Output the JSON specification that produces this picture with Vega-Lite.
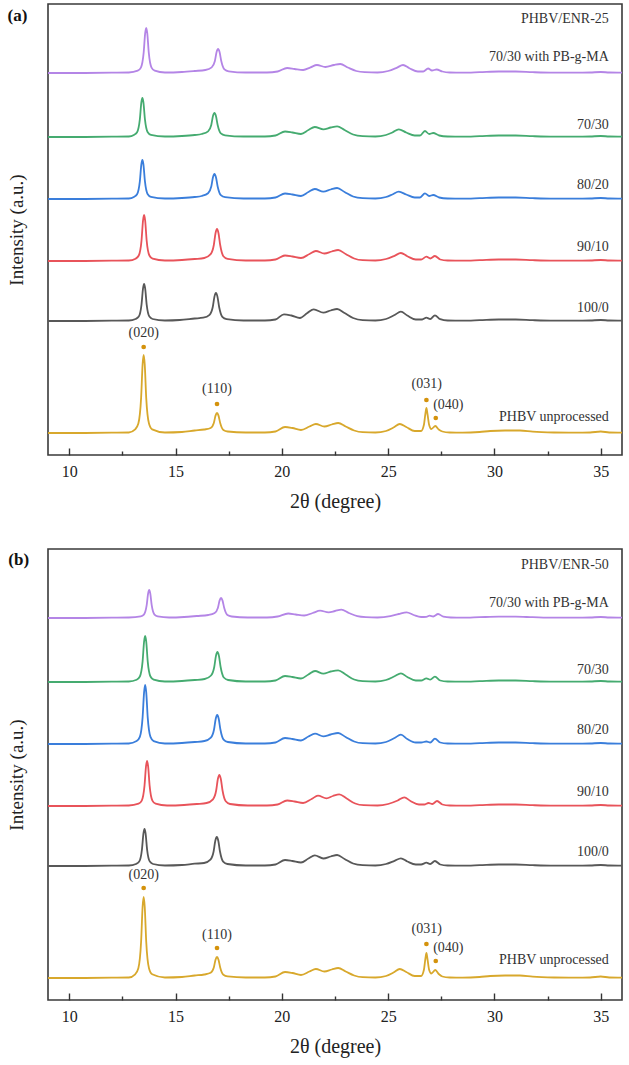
{
"$schema": "https://vega.github.io/schema/vega-lite/v6.json",
"padding": {"left": 6, "top": 3, "right": 5, "bottom": 5},
"spacing": 36,
"config": {
  "font": "Liberation Serif",
  "view": {"stroke": "#3a3a3a", "strokeWidth": 1.6},
  "axis": {"grid": false, "domain": false, "labelFont": "Liberation Serif", "titleFont": "Liberation Serif", "titleFontWeight": "normal", "labelColor": "#222", "titleColor": "#222"}
},
"datasets": {
"labels": [
{"p":"a","x":35.38,"y":436,"t":"PHBV/ENR-25"},
{"p":"a","x":35.38,"y":398,"t":"70/30 with PB-g-MA"},
{"p":"a","x":35.38,"y":330,"t":"70/30"},
{"p":"a","x":35.38,"y":270,"t":"80/20"},
{"p":"a","x":35.38,"y":208,"t":"90/10"},
{"p":"a","x":35.38,"y":147,"t":"100/0"},
{"p":"a","x":35.38,"y":38,"t":"PHBV unprocessed"},
{"p":"b","x":35.38,"y":435,"t":"PHBV/ENR-50"},
{"p":"b","x":35.38,"y":397,"t":"70/30 with PB-g-MA"},
{"p":"b","x":35.38,"y":330,"t":"70/30"},
{"p":"b","x":35.38,"y":270,"t":"80/20"},
{"p":"b","x":35.38,"y":208,"t":"90/10"},
{"p":"b","x":35.38,"y":148,"t":"100/0"},
{"p":"b","x":35.38,"y":40,"t":"PHBV unprocessed"}
],
"peaks": [
{"p":"a","x":13.5,"y":108,"lx":13.5,"ly":122,"t":"(020)"},
{"p":"a","x":16.95,"y":51,"lx":16.95,"ly":66,"t":"(110)"},
{"p":"a","x":26.8,"y":55,"lx":26.81,"ly":71,"t":"(031)"},
{"p":"a","x":27.24,"y":37,"lx":27.83,"ly":50,"t":"(040)"},
{"p":"b","x":13.5,"y":112,"lx":13.5,"ly":125,"t":"(020)"},
{"p":"b","x":16.95,"y":52,"lx":16.95,"ly":65,"t":"(110)"},
{"p":"b","x":26.8,"y":56,"lx":26.81,"ly":71,"t":"(031)"},
{"p":"b","x":27.24,"y":39,"lx":27.83,"ly":52,"t":"(040)"}
],
"letters": [
{"p":"a","x":7.56,"y":439,"t":"(a)"},
{"p":"b","x":7.62,"y":440,"t":"(b)"}
],
"curves": [
{"p":"a","s":"PBgMA","x":9.0,"y":382},{"p":"a","s":"PBgMA","x":10.5,"y":382},{"p":"a","s":"PBgMA","x":12.0,"y":382.3},{"p":"a","s":"PBgMA","x":12.8,"y":382.5},{"p":"a","s":"PBgMA","x":13.22,"y":384.3},{"p":"a","s":"PBgMA","x":13.37,"y":387.4},{"p":"a","s":"PBgMA","x":13.5,"y":402.3},{"p":"a","s":"PBgMA","x":13.57,"y":421.6},{"p":"a","s":"PBgMA","x":13.62,"y":427},{"p":"a","s":"PBgMA","x":13.67,"y":421.6},{"p":"a","s":"PBgMA","x":13.74,"y":402.3},{"p":"a","s":"PBgMA","x":13.87,"y":387.4},{"p":"a","s":"PBgMA","x":14.02,"y":384.3},{"p":"a","s":"PBgMA","x":14.5,"y":382.5},{"p":"a","s":"PBgMA","x":15.3,"y":383},{"p":"a","s":"PBgMA","x":15.9,"y":384},{"p":"a","s":"PBgMA","x":16.4,"y":385},{"p":"a","s":"PBgMA","x":16.7,"y":387.6},{"p":"a","s":"PBgMA","x":16.85,"y":394},{"p":"a","s":"PBgMA","x":16.93,"y":402.9},{"p":"a","s":"PBgMA","x":17.0,"y":406},{"p":"a","s":"PBgMA","x":17.07,"y":402.9},{"p":"a","s":"PBgMA","x":17.15,"y":394},{"p":"a","s":"PBgMA","x":17.3,"y":385.6},{"p":"a","s":"PBgMA","x":17.5,"y":383.7},{"p":"a","s":"PBgMA","x":18.3,"y":382.5},{"p":"a","s":"PBgMA","x":19.3,"y":382.5},{"p":"a","s":"PBgMA","x":19.8,"y":383.5},{"p":"a","s":"PBgMA","x":20.25,"y":387},{"p":"a","s":"PBgMA","x":20.6,"y":386},{"p":"a","s":"PBgMA","x":21.0,"y":385},{"p":"a","s":"PBgMA","x":21.35,"y":387.6},{"p":"a","s":"PBgMA","x":21.65,"y":390},{"p":"a","s":"PBgMA","x":22.05,"y":388},{"p":"a","s":"PBgMA","x":22.45,"y":390},{"p":"a","s":"PBgMA","x":22.75,"y":391},{"p":"a","s":"PBgMA","x":23.1,"y":387.5},{"p":"a","s":"PBgMA","x":23.5,"y":384},{"p":"a","s":"PBgMA","x":23.9,"y":382.8},{"p":"a","s":"PBgMA","x":24.5,"y":382.5},{"p":"a","s":"PBgMA","x":25.0,"y":384},{"p":"a","s":"PBgMA","x":25.4,"y":387.2},{"p":"a","s":"PBgMA","x":25.7,"y":390},{"p":"a","s":"PBgMA","x":26.0,"y":386.8},{"p":"a","s":"PBgMA","x":26.4,"y":383.5},{"p":"a","s":"PBgMA","x":26.65,"y":383.5},{"p":"a","s":"PBgMA","x":26.88,"y":386.5},{"p":"a","s":"PBgMA","x":27.06,"y":384.5},{"p":"a","s":"PBgMA","x":27.28,"y":385.5},{"p":"a","s":"PBgMA","x":27.55,"y":383.5},{"p":"a","s":"PBgMA","x":27.9,"y":382.5},{"p":"a","s":"PBgMA","x":28.5,"y":382.3},{"p":"a","s":"PBgMA","x":29.3,"y":382.8},{"p":"a","s":"PBgMA","x":30.2,"y":383.5},{"p":"a","s":"PBgMA","x":31.0,"y":383.5},{"p":"a","s":"PBgMA","x":31.8,"y":382.8},{"p":"a","s":"PBgMA","x":32.8,"y":382.3},{"p":"a","s":"PBgMA","x":33.8,"y":382.3},{"p":"a","s":"PBgMA","x":34.5,"y":382.5},{"p":"a","s":"PBgMA","x":35.0,"y":383},{"p":"a","s":"PBgMA","x":35.4,"y":382.5},{"p":"a","s":"PBgMA","x":36.0,"y":382.3},

{"p":"a","s":"70/30","x":9.0,"y":318},{"p":"a","s":"70/30","x":10.5,"y":318},{"p":"a","s":"70/30","x":12.0,"y":318.3},{"p":"a","s":"70/30","x":12.8,"y":318.5},{"p":"a","s":"70/30","x":13.04,"y":320.1},{"p":"a","s":"70/30","x":13.19,"y":322.7},{"p":"a","s":"70/30","x":13.32,"y":335.6},{"p":"a","s":"70/30","x":13.39,"y":352.3},{"p":"a","s":"70/30","x":13.44,"y":357},{"p":"a","s":"70/30","x":13.49,"y":352.3},{"p":"a","s":"70/30","x":13.56,"y":335.6},{"p":"a","s":"70/30","x":13.69,"y":322.7},{"p":"a","s":"70/30","x":13.84,"y":320.1},{"p":"a","s":"70/30","x":14.5,"y":318.5},{"p":"a","s":"70/30","x":15.3,"y":319},{"p":"a","s":"70/30","x":15.9,"y":320},{"p":"a","s":"70/30","x":16.23,"y":321},{"p":"a","s":"70/30","x":16.53,"y":323.6},{"p":"a","s":"70/30","x":16.68,"y":330},{"p":"a","s":"70/30","x":16.76,"y":338.9},{"p":"a","s":"70/30","x":16.83,"y":342},{"p":"a","s":"70/30","x":16.9,"y":338.9},{"p":"a","s":"70/30","x":16.98,"y":330},{"p":"a","s":"70/30","x":17.13,"y":321.6},{"p":"a","s":"70/30","x":17.33,"y":319.7},{"p":"a","s":"70/30","x":18.2,"y":318.5},{"p":"a","s":"70/30","x":19.2,"y":318.5},{"p":"a","s":"70/30","x":19.7,"y":319.5},{"p":"a","s":"70/30","x":20.15,"y":323.5},{"p":"a","s":"70/30","x":20.5,"y":322.5},{"p":"a","s":"70/30","x":20.9,"y":321},{"p":"a","s":"70/30","x":21.25,"y":325},{"p":"a","s":"70/30","x":21.55,"y":328},{"p":"a","s":"70/30","x":21.95,"y":325.7},{"p":"a","s":"70/30","x":22.3,"y":327.5},{"p":"a","s":"70/30","x":22.6,"y":328.7},{"p":"a","s":"70/30","x":22.95,"y":325},{"p":"a","s":"70/30","x":23.35,"y":320.5},{"p":"a","s":"70/30","x":23.8,"y":318.8},{"p":"a","s":"70/30","x":24.4,"y":318.5},{"p":"a","s":"70/30","x":24.9,"y":320},{"p":"a","s":"70/30","x":25.2,"y":322.5},{"p":"a","s":"70/30","x":25.5,"y":325.7},{"p":"a","s":"70/30","x":25.85,"y":322.5},{"p":"a","s":"70/30","x":26.25,"y":319.5},{"p":"a","s":"70/30","x":26.5,"y":319.5},{"p":"a","s":"70/30","x":26.73,"y":324},{"p":"a","s":"70/30","x":26.93,"y":321},{"p":"a","s":"70/30","x":27.12,"y":322},{"p":"a","s":"70/30","x":27.4,"y":319.5},{"p":"a","s":"70/30","x":27.8,"y":318.5},{"p":"a","s":"70/30","x":28.5,"y":318.3},{"p":"a","s":"70/30","x":29.3,"y":318.8},{"p":"a","s":"70/30","x":30.2,"y":319.5},{"p":"a","s":"70/30","x":31.0,"y":319.5},{"p":"a","s":"70/30","x":31.8,"y":318.8},{"p":"a","s":"70/30","x":32.8,"y":318.3},{"p":"a","s":"70/30","x":33.8,"y":318.3},{"p":"a","s":"70/30","x":34.5,"y":318.5},{"p":"a","s":"70/30","x":35.0,"y":319},{"p":"a","s":"70/30","x":35.4,"y":318.5},{"p":"a","s":"70/30","x":36.0,"y":318.3},

{"p":"a","s":"80/20","x":9.0,"y":256},{"p":"a","s":"80/20","x":10.5,"y":256},{"p":"a","s":"80/20","x":12.0,"y":256.3},{"p":"a","s":"80/20","x":12.8,"y":256.5},{"p":"a","s":"80/20","x":13.04,"y":258.1},{"p":"a","s":"80/20","x":13.19,"y":260.7},{"p":"a","s":"80/20","x":13.32,"y":273.6},{"p":"a","s":"80/20","x":13.39,"y":290.3},{"p":"a","s":"80/20","x":13.44,"y":295},{"p":"a","s":"80/20","x":13.49,"y":290.3},{"p":"a","s":"80/20","x":13.56,"y":273.6},{"p":"a","s":"80/20","x":13.69,"y":260.7},{"p":"a","s":"80/20","x":13.84,"y":258.1},{"p":"a","s":"80/20","x":14.5,"y":256.5},{"p":"a","s":"80/20","x":15.3,"y":257},{"p":"a","s":"80/20","x":15.9,"y":258},{"p":"a","s":"80/20","x":16.23,"y":259},{"p":"a","s":"80/20","x":16.53,"y":261.8},{"p":"a","s":"80/20","x":16.68,"y":268.5},{"p":"a","s":"80/20","x":16.76,"y":277.8},{"p":"a","s":"80/20","x":16.83,"y":281},{"p":"a","s":"80/20","x":16.9,"y":277.8},{"p":"a","s":"80/20","x":16.98,"y":268.5},{"p":"a","s":"80/20","x":17.13,"y":259.8},{"p":"a","s":"80/20","x":17.33,"y":257.8},{"p":"a","s":"80/20","x":18.2,"y":256.5},{"p":"a","s":"80/20","x":19.2,"y":256.5},{"p":"a","s":"80/20","x":19.7,"y":257.5},{"p":"a","s":"80/20","x":20.15,"y":261.5},{"p":"a","s":"80/20","x":20.5,"y":260.5},{"p":"a","s":"80/20","x":20.9,"y":259},{"p":"a","s":"80/20","x":21.25,"y":263},{"p":"a","s":"80/20","x":21.55,"y":266},{"p":"a","s":"80/20","x":21.95,"y":263.3},{"p":"a","s":"80/20","x":22.3,"y":265.5},{"p":"a","s":"80/20","x":22.6,"y":267},{"p":"a","s":"80/20","x":22.95,"y":263},{"p":"a","s":"80/20","x":23.35,"y":258.5},{"p":"a","s":"80/20","x":23.8,"y":256.8},{"p":"a","s":"80/20","x":24.4,"y":256.5},{"p":"a","s":"80/20","x":24.9,"y":258},{"p":"a","s":"80/20","x":25.2,"y":260.5},{"p":"a","s":"80/20","x":25.5,"y":263.3},{"p":"a","s":"80/20","x":25.85,"y":260.5},{"p":"a","s":"80/20","x":26.25,"y":257.5},{"p":"a","s":"80/20","x":26.5,"y":257.5},{"p":"a","s":"80/20","x":26.73,"y":261.7},{"p":"a","s":"80/20","x":26.93,"y":259},{"p":"a","s":"80/20","x":27.12,"y":260},{"p":"a","s":"80/20","x":27.4,"y":257.5},{"p":"a","s":"80/20","x":27.8,"y":256.5},{"p":"a","s":"80/20","x":28.5,"y":256.3},{"p":"a","s":"80/20","x":29.3,"y":256.8},{"p":"a","s":"80/20","x":30.2,"y":257.5},{"p":"a","s":"80/20","x":31.0,"y":257.5},{"p":"a","s":"80/20","x":31.8,"y":256.8},{"p":"a","s":"80/20","x":32.8,"y":256.3},{"p":"a","s":"80/20","x":33.8,"y":256.3},{"p":"a","s":"80/20","x":34.5,"y":256.5},{"p":"a","s":"80/20","x":35.0,"y":257},{"p":"a","s":"80/20","x":35.4,"y":256.5},{"p":"a","s":"80/20","x":36.0,"y":256.3},

{"p":"a","s":"90/10","x":9.0,"y":194},{"p":"a","s":"90/10","x":10.5,"y":194},{"p":"a","s":"90/10","x":12.0,"y":194.3},{"p":"a","s":"90/10","x":12.8,"y":194.5},{"p":"a","s":"90/10","x":13.12,"y":196.3},{"p":"a","s":"90/10","x":13.27,"y":199.5},{"p":"a","s":"90/10","x":13.4,"y":214.7},{"p":"a","s":"90/10","x":13.47,"y":234.5},{"p":"a","s":"90/10","x":13.52,"y":240},{"p":"a","s":"90/10","x":13.57,"y":234.5},{"p":"a","s":"90/10","x":13.64,"y":214.7},{"p":"a","s":"90/10","x":13.77,"y":199.5},{"p":"a","s":"90/10","x":13.92,"y":196.3},{"p":"a","s":"90/10","x":14.5,"y":194.5},{"p":"a","s":"90/10","x":15.3,"y":195},{"p":"a","s":"90/10","x":15.9,"y":196},{"p":"a","s":"90/10","x":16.35,"y":197},{"p":"a","s":"90/10","x":16.65,"y":200.8},{"p":"a","s":"90/10","x":16.8,"y":210},{"p":"a","s":"90/10","x":16.88,"y":221.8},{"p":"a","s":"90/10","x":16.95,"y":226},{"p":"a","s":"90/10","x":17.02,"y":221.8},{"p":"a","s":"90/10","x":17.1,"y":210},{"p":"a","s":"90/10","x":17.25,"y":198.8},{"p":"a","s":"90/10","x":17.45,"y":196.1},{"p":"a","s":"90/10","x":18.3,"y":194.5},{"p":"a","s":"90/10","x":19.2,"y":194.5},{"p":"a","s":"90/10","x":19.7,"y":195.5},{"p":"a","s":"90/10","x":20.15,"y":199.5},{"p":"a","s":"90/10","x":20.5,"y":198.5},{"p":"a","s":"90/10","x":20.9,"y":197},{"p":"a","s":"90/10","x":21.3,"y":201},{"p":"a","s":"90/10","x":21.6,"y":204},{"p":"a","s":"90/10","x":22.0,"y":201.5},{"p":"a","s":"90/10","x":22.35,"y":203.5},{"p":"a","s":"90/10","x":22.65,"y":205},{"p":"a","s":"90/10","x":23.0,"y":201},{"p":"a","s":"90/10","x":23.4,"y":196.5},{"p":"a","s":"90/10","x":23.8,"y":194.8},{"p":"a","s":"90/10","x":24.4,"y":194.5},{"p":"a","s":"90/10","x":24.9,"y":196},{"p":"a","s":"90/10","x":25.3,"y":199.2},{"p":"a","s":"90/10","x":25.6,"y":202},{"p":"a","s":"90/10","x":25.9,"y":198.8},{"p":"a","s":"90/10","x":26.3,"y":195.5},{"p":"a","s":"90/10","x":26.55,"y":195.5},{"p":"a","s":"90/10","x":26.8,"y":198.3},{"p":"a","s":"90/10","x":26.98,"y":196.5},{"p":"a","s":"90/10","x":27.2,"y":199},{"p":"a","s":"90/10","x":27.45,"y":195.5},{"p":"a","s":"90/10","x":27.8,"y":194.5},{"p":"a","s":"90/10","x":28.5,"y":194.3},{"p":"a","s":"90/10","x":29.3,"y":194.8},{"p":"a","s":"90/10","x":30.2,"y":195.5},{"p":"a","s":"90/10","x":31.0,"y":195.5},{"p":"a","s":"90/10","x":31.8,"y":194.8},{"p":"a","s":"90/10","x":32.8,"y":194.3},{"p":"a","s":"90/10","x":33.8,"y":194.3},{"p":"a","s":"90/10","x":34.5,"y":194.5},{"p":"a","s":"90/10","x":35.0,"y":195},{"p":"a","s":"90/10","x":35.4,"y":194.5},{"p":"a","s":"90/10","x":36.0,"y":194.3},

{"p":"a","s":"100/0","x":9.0,"y":134},{"p":"a","s":"100/0","x":10.5,"y":134},{"p":"a","s":"100/0","x":12.0,"y":134.3},{"p":"a","s":"100/0","x":12.8,"y":134.5},{"p":"a","s":"100/0","x":13.12,"y":136},{"p":"a","s":"100/0","x":13.27,"y":138.4},{"p":"a","s":"100/0","x":13.4,"y":150.7},{"p":"a","s":"100/0","x":13.47,"y":166.6},{"p":"a","s":"100/0","x":13.52,"y":171},{"p":"a","s":"100/0","x":13.57,"y":166.6},{"p":"a","s":"100/0","x":13.64,"y":150.7},{"p":"a","s":"100/0","x":13.77,"y":138.4},{"p":"a","s":"100/0","x":13.92,"y":136},{"p":"a","s":"100/0","x":14.5,"y":134.5},{"p":"a","s":"100/0","x":15.2,"y":135},{"p":"a","s":"100/0","x":15.9,"y":136.5},{"p":"a","s":"100/0","x":16.3,"y":137.3},{"p":"a","s":"100/0","x":16.6,"y":140.2},{"p":"a","s":"100/0","x":16.75,"y":148},{"p":"a","s":"100/0","x":16.83,"y":158.4},{"p":"a","s":"100/0","x":16.9,"y":162},{"p":"a","s":"100/0","x":16.97,"y":158.4},{"p":"a","s":"100/0","x":17.05,"y":148},{"p":"a","s":"100/0","x":17.2,"y":138.2},{"p":"a","s":"100/0","x":17.4,"y":135.9},{"p":"a","s":"100/0","x":18.2,"y":134.5},{"p":"a","s":"100/0","x":19.2,"y":134.5},{"p":"a","s":"100/0","x":19.7,"y":135.5},{"p":"a","s":"100/0","x":20.1,"y":140.7},{"p":"a","s":"100/0","x":20.45,"y":139.5},{"p":"a","s":"100/0","x":20.85,"y":137},{"p":"a","s":"100/0","x":21.2,"y":142},{"p":"a","s":"100/0","x":21.5,"y":145.7},{"p":"a","s":"100/0","x":21.95,"y":142.3},{"p":"a","s":"100/0","x":22.3,"y":144.5},{"p":"a","s":"100/0","x":22.6,"y":146},{"p":"a","s":"100/0","x":22.95,"y":142},{"p":"a","s":"100/0","x":23.35,"y":137},{"p":"a","s":"100/0","x":23.8,"y":134.8},{"p":"a","s":"100/0","x":24.4,"y":134.5},{"p":"a","s":"100/0","x":24.9,"y":136},{"p":"a","s":"100/0","x":25.3,"y":140},{"p":"a","s":"100/0","x":25.6,"y":143.3},{"p":"a","s":"100/0","x":25.9,"y":139.5},{"p":"a","s":"100/0","x":26.3,"y":135.5},{"p":"a","s":"100/0","x":26.6,"y":135.5},{"p":"a","s":"100/0","x":26.8,"y":137.3},{"p":"a","s":"100/0","x":26.98,"y":136},{"p":"a","s":"100/0","x":27.2,"y":139.7},{"p":"a","s":"100/0","x":27.45,"y":135.8},{"p":"a","s":"100/0","x":27.8,"y":134.5},{"p":"a","s":"100/0","x":28.5,"y":134.3},{"p":"a","s":"100/0","x":29.3,"y":134.8},{"p":"a","s":"100/0","x":30.2,"y":135.5},{"p":"a","s":"100/0","x":31.0,"y":135.5},{"p":"a","s":"100/0","x":31.8,"y":134.8},{"p":"a","s":"100/0","x":32.8,"y":134.3},{"p":"a","s":"100/0","x":33.8,"y":134.3},{"p":"a","s":"100/0","x":34.5,"y":134.5},{"p":"a","s":"100/0","x":35.0,"y":135},{"p":"a","s":"100/0","x":35.4,"y":134.5},{"p":"a","s":"100/0","x":36.0,"y":134.3},

{"p":"a","s":"PHBV","x":9.0,"y":22},{"p":"a","s":"PHBV","x":10.5,"y":22},{"p":"a","s":"PHBV","x":12.0,"y":22.3},{"p":"a","s":"PHBV","x":12.8,"y":22.5},{"p":"a","s":"PHBV","x":13.1,"y":25.6},{"p":"a","s":"PHBV","x":13.25,"y":31.4},{"p":"a","s":"PHBV","x":13.38,"y":57.1},{"p":"a","s":"PHBV","x":13.45,"y":90.6},{"p":"a","s":"PHBV","x":13.5,"y":100},{"p":"a","s":"PHBV","x":13.55,"y":90.6},{"p":"a","s":"PHBV","x":13.62,"y":57.1},{"p":"a","s":"PHBV","x":13.75,"y":31.4},{"p":"a","s":"PHBV","x":13.9,"y":25.6},{"p":"a","s":"PHBV","x":14.5,"y":22.5},{"p":"a","s":"PHBV","x":15.3,"y":23},{"p":"a","s":"PHBV","x":15.9,"y":24.5},{"p":"a","s":"PHBV","x":16.35,"y":25.5},{"p":"a","s":"PHBV","x":16.65,"y":27},{"p":"a","s":"PHBV","x":16.8,"y":32},{"p":"a","s":"PHBV","x":16.88,"y":39.4},{"p":"a","s":"PHBV","x":16.95,"y":42},{"p":"a","s":"PHBV","x":17.02,"y":39.4},{"p":"a","s":"PHBV","x":17.1,"y":32},{"p":"a","s":"PHBV","x":17.25,"y":25},{"p":"a","s":"PHBV","x":17.45,"y":23.5},{"p":"a","s":"PHBV","x":18.3,"y":22.5},{"p":"a","s":"PHBV","x":19.2,"y":22.5},{"p":"a","s":"PHBV","x":19.7,"y":23.5},{"p":"a","s":"PHBV","x":20.15,"y":28},{"p":"a","s":"PHBV","x":20.5,"y":27},{"p":"a","s":"PHBV","x":20.9,"y":25},{"p":"a","s":"PHBV","x":21.3,"y":28.5},{"p":"a","s":"PHBV","x":21.6,"y":31},{"p":"a","s":"PHBV","x":22.0,"y":28.5},{"p":"a","s":"PHBV","x":22.35,"y":30.5},{"p":"a","s":"PHBV","x":22.65,"y":32},{"p":"a","s":"PHBV","x":23.0,"y":28.5},{"p":"a","s":"PHBV","x":23.4,"y":24.5},{"p":"a","s":"PHBV","x":23.8,"y":22.8},{"p":"a","s":"PHBV","x":24.4,"y":22.5},{"p":"a","s":"PHBV","x":24.9,"y":24},{"p":"a","s":"PHBV","x":25.25,"y":27.5},{"p":"a","s":"PHBV","x":25.55,"y":31},{"p":"a","s":"PHBV","x":25.85,"y":28},{"p":"a","s":"PHBV","x":26.25,"y":24},{"p":"a","s":"PHBV","x":26.55,"y":24},{"p":"a","s":"PHBV","x":26.68,"y":30},{"p":"a","s":"PHBV","x":26.75,"y":41},{"p":"a","s":"PHBV","x":26.8,"y":47},{"p":"a","s":"PHBV","x":26.85,"y":41},{"p":"a","s":"PHBV","x":26.93,"y":30},{"p":"a","s":"PHBV","x":27.03,"y":26},{"p":"a","s":"PHBV","x":27.22,"y":29},{"p":"a","s":"PHBV","x":27.38,"y":25.5},{"p":"a","s":"PHBV","x":27.55,"y":23.5},{"p":"a","s":"PHBV","x":27.9,"y":22.5},{"p":"a","s":"PHBV","x":28.5,"y":22.3},{"p":"a","s":"PHBV","x":29.3,"y":23},{"p":"a","s":"PHBV","x":29.8,"y":24},{"p":"a","s":"PHBV","x":30.5,"y":24.5},{"p":"a","s":"PHBV","x":31.2,"y":24.5},{"p":"a","s":"PHBV","x":31.8,"y":23.3},{"p":"a","s":"PHBV","x":32.8,"y":22.5},{"p":"a","s":"PHBV","x":33.8,"y":22.3},{"p":"a","s":"PHBV","x":34.5,"y":22.5},{"p":"a","s":"PHBV","x":35.0,"y":23.5},{"p":"a","s":"PHBV","x":35.4,"y":22.5},{"p":"a","s":"PHBV","x":36.0,"y":22.3},

{"p":"b","s":"PBgMA","x":9.0,"y":382},{"p":"b","s":"PBgMA","x":10.5,"y":382},{"p":"b","s":"PBgMA","x":12.0,"y":382.3},{"p":"b","s":"PBgMA","x":12.8,"y":382.5},{"p":"b","s":"PBgMA","x":13.36,"y":383.6},{"p":"b","s":"PBgMA","x":13.51,"y":385.4},{"p":"b","s":"PBgMA","x":13.64,"y":394.6},{"p":"b","s":"PBgMA","x":13.71,"y":406.6},{"p":"b","s":"PBgMA","x":13.76,"y":410},{"p":"b","s":"PBgMA","x":13.81,"y":406.6},{"p":"b","s":"PBgMA","x":13.88,"y":394.6},{"p":"b","s":"PBgMA","x":14.01,"y":385.4},{"p":"b","s":"PBgMA","x":14.16,"y":383.6},{"p":"b","s":"PBgMA","x":14.7,"y":382.5},{"p":"b","s":"PBgMA","x":15.4,"y":383},{"p":"b","s":"PBgMA","x":16.0,"y":384},{"p":"b","s":"PBgMA","x":16.54,"y":385},{"p":"b","s":"PBgMA","x":16.84,"y":387},{"p":"b","s":"PBgMA","x":16.99,"y":392},{"p":"b","s":"PBgMA","x":17.07,"y":399.4},{"p":"b","s":"PBgMA","x":17.14,"y":402},{"p":"b","s":"PBgMA","x":17.21,"y":399.4},{"p":"b","s":"PBgMA","x":17.29,"y":392},{"p":"b","s":"PBgMA","x":17.44,"y":385},{"p":"b","s":"PBgMA","x":17.64,"y":383.5},{"p":"b","s":"PBgMA","x":18.4,"y":382.5},{"p":"b","s":"PBgMA","x":19.3,"y":382.5},{"p":"b","s":"PBgMA","x":19.8,"y":383.5},{"p":"b","s":"PBgMA","x":20.3,"y":386.5},{"p":"b","s":"PBgMA","x":20.65,"y":385.5},{"p":"b","s":"PBgMA","x":21.05,"y":384.5},{"p":"b","s":"PBgMA","x":21.45,"y":387},{"p":"b","s":"PBgMA","x":21.8,"y":389.3},{"p":"b","s":"PBgMA","x":22.2,"y":387.7},{"p":"b","s":"PBgMA","x":22.5,"y":389},{"p":"b","s":"PBgMA","x":22.8,"y":390.3},{"p":"b","s":"PBgMA","x":23.15,"y":387},{"p":"b","s":"PBgMA","x":23.55,"y":383.8},{"p":"b","s":"PBgMA","x":23.95,"y":382.8},{"p":"b","s":"PBgMA","x":24.5,"y":382.5},{"p":"b","s":"PBgMA","x":25.1,"y":383.8},{"p":"b","s":"PBgMA","x":25.5,"y":386},{"p":"b","s":"PBgMA","x":25.87,"y":387.7},{"p":"b","s":"PBgMA","x":26.2,"y":385},{"p":"b","s":"PBgMA","x":26.55,"y":383},{"p":"b","s":"PBgMA","x":26.8,"y":383.2},{"p":"b","s":"PBgMA","x":26.95,"y":384.3},{"p":"b","s":"PBgMA","x":27.12,"y":383.5},{"p":"b","s":"PBgMA","x":27.35,"y":386},{"p":"b","s":"PBgMA","x":27.6,"y":383.3},{"p":"b","s":"PBgMA","x":27.95,"y":382.5},{"p":"b","s":"PBgMA","x":28.5,"y":382.3},{"p":"b","s":"PBgMA","x":29.3,"y":382.8},{"p":"b","s":"PBgMA","x":30.2,"y":383.3},{"p":"b","s":"PBgMA","x":31.0,"y":383.3},{"p":"b","s":"PBgMA","x":31.8,"y":382.8},{"p":"b","s":"PBgMA","x":32.8,"y":382.3},{"p":"b","s":"PBgMA","x":33.8,"y":382.3},{"p":"b","s":"PBgMA","x":34.5,"y":382.5},{"p":"b","s":"PBgMA","x":35.0,"y":383},{"p":"b","s":"PBgMA","x":35.4,"y":382.5},{"p":"b","s":"PBgMA","x":36.0,"y":382.3},

{"p":"b","s":"70/30","x":9.0,"y":318},{"p":"b","s":"70/30","x":10.5,"y":318},{"p":"b","s":"70/30","x":12.0,"y":318.3},{"p":"b","s":"70/30","x":12.8,"y":318.5},{"p":"b","s":"70/30","x":13.17,"y":320.3},{"p":"b","s":"70/30","x":13.32,"y":323.5},{"p":"b","s":"70/30","x":13.45,"y":338.7},{"p":"b","s":"70/30","x":13.52,"y":358.5},{"p":"b","s":"70/30","x":13.57,"y":364},{"p":"b","s":"70/30","x":13.62,"y":358.5},{"p":"b","s":"70/30","x":13.69,"y":338.7},{"p":"b","s":"70/30","x":13.82,"y":323.5},{"p":"b","s":"70/30","x":13.97,"y":320.3},{"p":"b","s":"70/30","x":14.5,"y":318.5},{"p":"b","s":"70/30","x":15.3,"y":319},{"p":"b","s":"70/30","x":15.9,"y":320},{"p":"b","s":"70/30","x":16.37,"y":321},{"p":"b","s":"70/30","x":16.67,"y":324.5},{"p":"b","s":"70/30","x":16.82,"y":333},{"p":"b","s":"70/30","x":16.9,"y":344.1},{"p":"b","s":"70/30","x":16.97,"y":348},{"p":"b","s":"70/30","x":17.04,"y":344.1},{"p":"b","s":"70/30","x":17.12,"y":333},{"p":"b","s":"70/30","x":17.27,"y":322.5},{"p":"b","s":"70/30","x":17.47,"y":320},{"p":"b","s":"70/30","x":18.3,"y":318.5},{"p":"b","s":"70/30","x":19.2,"y":318.5},{"p":"b","s":"70/30","x":19.7,"y":319.5},{"p":"b","s":"70/30","x":20.15,"y":324},{"p":"b","s":"70/30","x":20.5,"y":323},{"p":"b","s":"70/30","x":20.9,"y":321.5},{"p":"b","s":"70/30","x":21.25,"y":325.5},{"p":"b","s":"70/30","x":21.56,"y":329},{"p":"b","s":"70/30","x":21.95,"y":326.3},{"p":"b","s":"70/30","x":22.3,"y":328.5},{"p":"b","s":"70/30","x":22.65,"y":329.7},{"p":"b","s":"70/30","x":23.0,"y":325.5},{"p":"b","s":"70/30","x":23.4,"y":320.5},{"p":"b","s":"70/30","x":23.8,"y":318.8},{"p":"b","s":"70/30","x":24.4,"y":318.5},{"p":"b","s":"70/30","x":24.9,"y":320},{"p":"b","s":"70/30","x":25.3,"y":323.7},{"p":"b","s":"70/30","x":25.6,"y":326.7},{"p":"b","s":"70/30","x":25.9,"y":323},{"p":"b","s":"70/30","x":26.3,"y":319.5},{"p":"b","s":"70/30","x":26.55,"y":319.5},{"p":"b","s":"70/30","x":26.8,"y":321.7},{"p":"b","s":"70/30","x":26.98,"y":320.3},{"p":"b","s":"70/30","x":27.2,"y":323.3},{"p":"b","s":"70/30","x":27.45,"y":319.5},{"p":"b","s":"70/30","x":27.8,"y":318.5},{"p":"b","s":"70/30","x":28.5,"y":318.3},{"p":"b","s":"70/30","x":29.3,"y":318.8},{"p":"b","s":"70/30","x":30.2,"y":319.5},{"p":"b","s":"70/30","x":31.0,"y":319.5},{"p":"b","s":"70/30","x":31.8,"y":318.8},{"p":"b","s":"70/30","x":32.8,"y":318.3},{"p":"b","s":"70/30","x":33.8,"y":318.3},{"p":"b","s":"70/30","x":34.5,"y":318.5},{"p":"b","s":"70/30","x":35.0,"y":319},{"p":"b","s":"70/30","x":35.4,"y":318.5},{"p":"b","s":"70/30","x":36.0,"y":318.3},

{"p":"b","s":"80/20","x":9.0,"y":256},{"p":"b","s":"80/20","x":10.5,"y":256},{"p":"b","s":"80/20","x":12.0,"y":256.3},{"p":"b","s":"80/20","x":12.8,"y":256.5},{"p":"b","s":"80/20","x":13.17,"y":258.9},{"p":"b","s":"80/20","x":13.32,"y":263.1},{"p":"b","s":"80/20","x":13.45,"y":282.6},{"p":"b","s":"80/20","x":13.52,"y":307.9},{"p":"b","s":"80/20","x":13.57,"y":315},{"p":"b","s":"80/20","x":13.62,"y":307.9},{"p":"b","s":"80/20","x":13.69,"y":282.6},{"p":"b","s":"80/20","x":13.82,"y":263.1},{"p":"b","s":"80/20","x":13.97,"y":258.9},{"p":"b","s":"80/20","x":14.5,"y":256.5},{"p":"b","s":"80/20","x":15.3,"y":257},{"p":"b","s":"80/20","x":15.9,"y":258},{"p":"b","s":"80/20","x":16.36,"y":259},{"p":"b","s":"80/20","x":16.66,"y":262.4},{"p":"b","s":"80/20","x":16.81,"y":270.5},{"p":"b","s":"80/20","x":16.89,"y":281.2},{"p":"b","s":"80/20","x":16.96,"y":285},{"p":"b","s":"80/20","x":17.03,"y":281.2},{"p":"b","s":"80/20","x":17.11,"y":270.5},{"p":"b","s":"80/20","x":17.26,"y":260.4},{"p":"b","s":"80/20","x":17.46,"y":258},{"p":"b","s":"80/20","x":18.3,"y":256.5},{"p":"b","s":"80/20","x":19.2,"y":256.5},{"p":"b","s":"80/20","x":19.7,"y":257.5},{"p":"b","s":"80/20","x":20.15,"y":262},{"p":"b","s":"80/20","x":20.5,"y":261},{"p":"b","s":"80/20","x":20.9,"y":259.5},{"p":"b","s":"80/20","x":21.25,"y":263.5},{"p":"b","s":"80/20","x":21.56,"y":266.3},{"p":"b","s":"80/20","x":21.95,"y":263.7},{"p":"b","s":"80/20","x":22.3,"y":265.5},{"p":"b","s":"80/20","x":22.65,"y":267},{"p":"b","s":"80/20","x":23.0,"y":263},{"p":"b","s":"80/20","x":23.4,"y":258.5},{"p":"b","s":"80/20","x":23.8,"y":256.8},{"p":"b","s":"80/20","x":24.4,"y":256.5},{"p":"b","s":"80/20","x":24.9,"y":258},{"p":"b","s":"80/20","x":25.3,"y":262},{"p":"b","s":"80/20","x":25.6,"y":265.3},{"p":"b","s":"80/20","x":25.9,"y":261},{"p":"b","s":"80/20","x":26.3,"y":257.5},{"p":"b","s":"80/20","x":26.55,"y":257.5},{"p":"b","s":"80/20","x":26.8,"y":258.5},{"p":"b","s":"80/20","x":26.98,"y":257.5},{"p":"b","s":"80/20","x":27.2,"y":261.3},{"p":"b","s":"80/20","x":27.45,"y":257.5},{"p":"b","s":"80/20","x":27.8,"y":256.5},{"p":"b","s":"80/20","x":28.5,"y":256.3},{"p":"b","s":"80/20","x":29.3,"y":256.8},{"p":"b","s":"80/20","x":30.2,"y":257.5},{"p":"b","s":"80/20","x":31.0,"y":257.5},{"p":"b","s":"80/20","x":31.8,"y":256.8},{"p":"b","s":"80/20","x":32.8,"y":256.3},{"p":"b","s":"80/20","x":33.8,"y":256.3},{"p":"b","s":"80/20","x":34.5,"y":256.5},{"p":"b","s":"80/20","x":35.0,"y":257},{"p":"b","s":"80/20","x":35.4,"y":256.5},{"p":"b","s":"80/20","x":36.0,"y":256.3},

{"p":"b","s":"90/10","x":9.0,"y":194},{"p":"b","s":"90/10","x":10.5,"y":194},{"p":"b","s":"90/10","x":12.0,"y":194.3},{"p":"b","s":"90/10","x":12.8,"y":194.5},{"p":"b","s":"90/10","x":13.26,"y":196.3},{"p":"b","s":"90/10","x":13.41,"y":199.4},{"p":"b","s":"90/10","x":13.54,"y":214.3},{"p":"b","s":"90/10","x":13.61,"y":233.6},{"p":"b","s":"90/10","x":13.66,"y":239},{"p":"b","s":"90/10","x":13.71,"y":233.6},{"p":"b","s":"90/10","x":13.78,"y":214.3},{"p":"b","s":"90/10","x":13.91,"y":199.4},{"p":"b","s":"90/10","x":14.06,"y":196.3},{"p":"b","s":"90/10","x":14.6,"y":194.5},{"p":"b","s":"90/10","x":15.4,"y":195},{"p":"b","s":"90/10","x":16.0,"y":196},{"p":"b","s":"90/10","x":16.46,"y":197},{"p":"b","s":"90/10","x":16.76,"y":200.7},{"p":"b","s":"90/10","x":16.91,"y":209.5},{"p":"b","s":"90/10","x":16.99,"y":221},{"p":"b","s":"90/10","x":17.06,"y":225},{"p":"b","s":"90/10","x":17.13,"y":221},{"p":"b","s":"90/10","x":17.21,"y":209.5},{"p":"b","s":"90/10","x":17.36,"y":198.7},{"p":"b","s":"90/10","x":17.56,"y":196},{"p":"b","s":"90/10","x":18.4,"y":194.5},{"p":"b","s":"90/10","x":19.3,"y":194.5},{"p":"b","s":"90/10","x":19.8,"y":195.5},{"p":"b","s":"90/10","x":20.25,"y":199.5},{"p":"b","s":"90/10","x":20.6,"y":198.5},{"p":"b","s":"90/10","x":21.0,"y":197},{"p":"b","s":"90/10","x":21.4,"y":201},{"p":"b","s":"90/10","x":21.7,"y":204.3},{"p":"b","s":"90/10","x":22.1,"y":201.7},{"p":"b","s":"90/10","x":22.4,"y":204},{"p":"b","s":"90/10","x":22.7,"y":205.7},{"p":"b","s":"90/10","x":23.05,"y":201.5},{"p":"b","s":"90/10","x":23.45,"y":196.5},{"p":"b","s":"90/10","x":23.85,"y":194.8},{"p":"b","s":"90/10","x":24.5,"y":194.5},{"p":"b","s":"90/10","x":25.0,"y":196},{"p":"b","s":"90/10","x":25.45,"y":199.5},{"p":"b","s":"90/10","x":25.76,"y":202.7},{"p":"b","s":"90/10","x":26.05,"y":199},{"p":"b","s":"90/10","x":26.45,"y":195.5},{"p":"b","s":"90/10","x":26.7,"y":195.5},{"p":"b","s":"90/10","x":26.9,"y":197},{"p":"b","s":"90/10","x":27.08,"y":196},{"p":"b","s":"90/10","x":27.3,"y":199},{"p":"b","s":"90/10","x":27.55,"y":195.5},{"p":"b","s":"90/10","x":27.9,"y":194.5},{"p":"b","s":"90/10","x":28.5,"y":194.3},{"p":"b","s":"90/10","x":29.3,"y":194.8},{"p":"b","s":"90/10","x":30.2,"y":195.5},{"p":"b","s":"90/10","x":31.0,"y":195.5},{"p":"b","s":"90/10","x":31.8,"y":194.8},{"p":"b","s":"90/10","x":32.8,"y":194.3},{"p":"b","s":"90/10","x":33.8,"y":194.3},{"p":"b","s":"90/10","x":34.5,"y":194.5},{"p":"b","s":"90/10","x":35.0,"y":195},{"p":"b","s":"90/10","x":35.4,"y":194.5},{"p":"b","s":"90/10","x":36.0,"y":194.3},

{"p":"b","s":"100/0","x":9.0,"y":134},{"p":"b","s":"100/0","x":10.5,"y":134},{"p":"b","s":"100/0","x":12.0,"y":134.3},{"p":"b","s":"100/0","x":12.8,"y":134.5},{"p":"b","s":"100/0","x":13.14,"y":136},{"p":"b","s":"100/0","x":13.29,"y":138.4},{"p":"b","s":"100/0","x":13.42,"y":150.7},{"p":"b","s":"100/0","x":13.49,"y":166.6},{"p":"b","s":"100/0","x":13.54,"y":171},{"p":"b","s":"100/0","x":13.59,"y":166.6},{"p":"b","s":"100/0","x":13.66,"y":150.7},{"p":"b","s":"100/0","x":13.79,"y":138.4},{"p":"b","s":"100/0","x":13.94,"y":136},{"p":"b","s":"100/0","x":14.5,"y":134.5},{"p":"b","s":"100/0","x":15.3,"y":135},{"p":"b","s":"100/0","x":15.9,"y":136.3},{"p":"b","s":"100/0","x":16.34,"y":137},{"p":"b","s":"100/0","x":16.64,"y":140.4},{"p":"b","s":"100/0","x":16.79,"y":148.5},{"p":"b","s":"100/0","x":16.87,"y":159.2},{"p":"b","s":"100/0","x":16.94,"y":163},{"p":"b","s":"100/0","x":17.01,"y":159.2},{"p":"b","s":"100/0","x":17.09,"y":148.5},{"p":"b","s":"100/0","x":17.24,"y":138.4},{"p":"b","s":"100/0","x":17.44,"y":136},{"p":"b","s":"100/0","x":18.3,"y":134.5},{"p":"b","s":"100/0","x":19.2,"y":134.5},{"p":"b","s":"100/0","x":19.7,"y":135.5},{"p":"b","s":"100/0","x":20.15,"y":140},{"p":"b","s":"100/0","x":20.5,"y":139},{"p":"b","s":"100/0","x":20.9,"y":137.5},{"p":"b","s":"100/0","x":21.25,"y":141.5},{"p":"b","s":"100/0","x":21.55,"y":144.7},{"p":"b","s":"100/0","x":21.95,"y":141.5},{"p":"b","s":"100/0","x":22.3,"y":143.5},{"p":"b","s":"100/0","x":22.6,"y":145},{"p":"b","s":"100/0","x":22.95,"y":141},{"p":"b","s":"100/0","x":23.35,"y":136.5},{"p":"b","s":"100/0","x":23.8,"y":134.8},{"p":"b","s":"100/0","x":24.4,"y":134.5},{"p":"b","s":"100/0","x":24.9,"y":136},{"p":"b","s":"100/0","x":25.3,"y":139.2},{"p":"b","s":"100/0","x":25.6,"y":141.7},{"p":"b","s":"100/0","x":25.9,"y":138.5},{"p":"b","s":"100/0","x":26.3,"y":135.5},{"p":"b","s":"100/0","x":26.55,"y":135.5},{"p":"b","s":"100/0","x":26.8,"y":137.3},{"p":"b","s":"100/0","x":26.98,"y":136},{"p":"b","s":"100/0","x":27.2,"y":139},{"p":"b","s":"100/0","x":27.45,"y":135.5},{"p":"b","s":"100/0","x":27.8,"y":134.5},{"p":"b","s":"100/0","x":28.5,"y":134.3},{"p":"b","s":"100/0","x":29.3,"y":134.8},{"p":"b","s":"100/0","x":30.2,"y":135.5},{"p":"b","s":"100/0","x":31.0,"y":135.5},{"p":"b","s":"100/0","x":31.8,"y":134.8},{"p":"b","s":"100/0","x":32.8,"y":134.3},{"p":"b","s":"100/0","x":33.8,"y":134.3},{"p":"b","s":"100/0","x":34.5,"y":134.5},{"p":"b","s":"100/0","x":35.0,"y":135},{"p":"b","s":"100/0","x":35.4,"y":134.5},{"p":"b","s":"100/0","x":36.0,"y":134.3},

{"p":"b","s":"PHBV","x":9.0,"y":22},{"p":"b","s":"PHBV","x":10.5,"y":22},{"p":"b","s":"PHBV","x":12.0,"y":22.3},{"p":"b","s":"PHBV","x":12.8,"y":22.5},{"p":"b","s":"PHBV","x":13.1,"y":25.7},{"p":"b","s":"PHBV","x":13.25,"y":31.7},{"p":"b","s":"PHBV","x":13.38,"y":58.5},{"p":"b","s":"PHBV","x":13.45,"y":93.3},{"p":"b","s":"PHBV","x":13.5,"y":103},{"p":"b","s":"PHBV","x":13.55,"y":93.3},{"p":"b","s":"PHBV","x":13.62,"y":58.5},{"p":"b","s":"PHBV","x":13.75,"y":31.7},{"p":"b","s":"PHBV","x":13.9,"y":25.7},{"p":"b","s":"PHBV","x":14.5,"y":22.5},{"p":"b","s":"PHBV","x":15.3,"y":23},{"p":"b","s":"PHBV","x":15.9,"y":24.5},{"p":"b","s":"PHBV","x":16.35,"y":25.5},{"p":"b","s":"PHBV","x":16.65,"y":27.2},{"p":"b","s":"PHBV","x":16.8,"y":32.5},{"p":"b","s":"PHBV","x":16.88,"y":40.3},{"p":"b","s":"PHBV","x":16.95,"y":43},{"p":"b","s":"PHBV","x":17.02,"y":40.3},{"p":"b","s":"PHBV","x":17.1,"y":32.5},{"p":"b","s":"PHBV","x":17.25,"y":25.2},{"p":"b","s":"PHBV","x":17.45,"y":23.6},{"p":"b","s":"PHBV","x":18.3,"y":22.5},{"p":"b","s":"PHBV","x":19.2,"y":22.5},{"p":"b","s":"PHBV","x":19.7,"y":23.5},{"p":"b","s":"PHBV","x":20.15,"y":28},{"p":"b","s":"PHBV","x":20.5,"y":27},{"p":"b","s":"PHBV","x":20.9,"y":25},{"p":"b","s":"PHBV","x":21.3,"y":28.5},{"p":"b","s":"PHBV","x":21.6,"y":31},{"p":"b","s":"PHBV","x":22.0,"y":28.5},{"p":"b","s":"PHBV","x":22.35,"y":30.5},{"p":"b","s":"PHBV","x":22.65,"y":32},{"p":"b","s":"PHBV","x":23.0,"y":28.5},{"p":"b","s":"PHBV","x":23.4,"y":24.5},{"p":"b","s":"PHBV","x":23.8,"y":22.8},{"p":"b","s":"PHBV","x":24.4,"y":22.5},{"p":"b","s":"PHBV","x":24.9,"y":24},{"p":"b","s":"PHBV","x":25.25,"y":27.5},{"p":"b","s":"PHBV","x":25.55,"y":31},{"p":"b","s":"PHBV","x":25.85,"y":28},{"p":"b","s":"PHBV","x":26.25,"y":24},{"p":"b","s":"PHBV","x":26.55,"y":24},{"p":"b","s":"PHBV","x":26.68,"y":30},{"p":"b","s":"PHBV","x":26.75,"y":41},{"p":"b","s":"PHBV","x":26.8,"y":47},{"p":"b","s":"PHBV","x":26.85,"y":41},{"p":"b","s":"PHBV","x":26.93,"y":30},{"p":"b","s":"PHBV","x":27.03,"y":26.5},{"p":"b","s":"PHBV","x":27.22,"y":30},{"p":"b","s":"PHBV","x":27.38,"y":26},{"p":"b","s":"PHBV","x":27.55,"y":23.5},{"p":"b","s":"PHBV","x":27.9,"y":22.5},{"p":"b","s":"PHBV","x":28.5,"y":22.3},{"p":"b","s":"PHBV","x":29.3,"y":23},{"p":"b","s":"PHBV","x":29.8,"y":24},{"p":"b","s":"PHBV","x":30.5,"y":24.5},{"p":"b","s":"PHBV","x":31.2,"y":24.5},{"p":"b","s":"PHBV","x":31.8,"y":23.3},{"p":"b","s":"PHBV","x":32.8,"y":22.5},{"p":"b","s":"PHBV","x":33.8,"y":22.3},{"p":"b","s":"PHBV","x":34.5,"y":22.5},{"p":"b","s":"PHBV","x":35.0,"y":23.5},{"p":"b","s":"PHBV","x":35.4,"y":22.5},{"p":"b","s":"PHBV","x":36.0,"y":22.3}
]
},
"vconcat": [
{
  "width": 574, "height": 451,
  "encoding": {
    "x": {"field": "x", "type": "quantitative", "scale": {"domain": [9, 36], "nice": false, "zero": false},
      "axis": {"title": "2θ (degree)", "values": [10, 12.5, 15, 17.5, 20, 22.5, 25, 27.5, 30, 32.5, 35], "labelExpr": "datum.value % 5 === 0 ? datum.label : ''",
        "tickSize": {"condition": {"test": "datum.value % 5 === 0", "value": -7}, "value": -4},
        "tickColor": "#333", "tickWidth": 1.4, "labelFontSize": 16, "labelPadding": 15, "titleFontSize": 20, "titlePadding": 12}},
    "y": {"field": "y", "type": "quantitative", "scale": {"domain": [0, 451], "nice": false, "zero": false},
      "axis": {"title": "Intensity (a.u.)", "labels": false, "ticks": false, "titleFontSize": 19, "titlePadding": 22}}
  },
  "layer": [
    {"data": {"name": "curves"}, "transform": [{"filter": "datum.p === 'a'"}],
     "mark": {"type": "line", "strokeWidth": 1.8, "interpolate": "monotone"},
     "encoding": {"color": {"field": "s", "type": "nominal", "legend": null,
       "scale": {"domain": ["PBgMA", "70/30", "80/20", "90/10", "100/0", "PHBV"], "range": ["#b485e6", "#45ab70", "#3a7edb", "#e8535a", "#585858", "#d8a82c"]}}}},
    {"data": {"name": "labels"}, "transform": [{"filter": "datum.p === 'a'"}],
     "mark": {"type": "text", "align": "right", "baseline": "middle", "fontSize": 14, "color": "#333"},
     "encoding": {"text": {"field": "t"}}},
    {"data": {"name": "peaks"}, "transform": [{"filter": "datum.p === 'a'"}],
     "mark": {"type": "point", "filled": true, "size": 22, "opacity": 1, "color": "#d4920c"}},
    {"data": {"name": "peaks"}, "transform": [{"filter": "datum.p === 'a'"}],
     "mark": {"type": "text", "align": "center", "baseline": "middle", "fontSize": 14, "color": "#333"},
     "encoding": {"x": {"field": "lx", "type": "quantitative"}, "y": {"field": "ly", "type": "quantitative"}, "text": {"field": "t"}}},
    {"data": {"name": "letters"}, "transform": [{"filter": "datum.p === 'a'"}],
     "mark": {"type": "text", "align": "center", "baseline": "middle", "fontSize": 17, "fontWeight": "bold", "color": "#111"},
     "encoding": {"text": {"field": "t"}}}
  ]
},
{
  "width": 574, "height": 451,
  "encoding": {
    "x": {"field": "x", "type": "quantitative", "scale": {"domain": [9, 36], "nice": false, "zero": false},
      "axis": {"title": "2θ (degree)", "values": [10, 12.5, 15, 17.5, 20, 22.5, 25, 27.5, 30, 32.5, 35], "labelExpr": "datum.value % 5 === 0 ? datum.label : ''",
        "tickSize": {"condition": {"test": "datum.value % 5 === 0", "value": -7}, "value": -4},
        "tickColor": "#333", "tickWidth": 1.4, "labelFontSize": 16, "labelPadding": 15, "titleFontSize": 20, "titlePadding": 12}},
    "y": {"field": "y", "type": "quantitative", "scale": {"domain": [0, 451], "nice": false, "zero": false},
      "axis": {"title": "Intensity (a.u.)", "labels": false, "ticks": false, "titleFontSize": 19, "titlePadding": 22}}
  },
  "layer": [
    {"data": {"name": "curves"}, "transform": [{"filter": "datum.p === 'b'"}],
     "mark": {"type": "line", "strokeWidth": 1.8, "interpolate": "monotone"},
     "encoding": {"color": {"field": "s", "type": "nominal", "legend": null,
       "scale": {"domain": ["PBgMA", "70/30", "80/20", "90/10", "100/0", "PHBV"], "range": ["#b485e6", "#45ab70", "#3a7edb", "#e8535a", "#585858", "#d8a82c"]}}}},
    {"data": {"name": "labels"}, "transform": [{"filter": "datum.p === 'b'"}],
     "mark": {"type": "text", "align": "right", "baseline": "middle", "fontSize": 14, "color": "#333"},
     "encoding": {"text": {"field": "t"}}},
    {"data": {"name": "peaks"}, "transform": [{"filter": "datum.p === 'b'"}],
     "mark": {"type": "point", "filled": true, "size": 22, "opacity": 1, "color": "#d4920c"}},
    {"data": {"name": "peaks"}, "transform": [{"filter": "datum.p === 'b'"}],
     "mark": {"type": "text", "align": "center", "baseline": "middle", "fontSize": 14, "color": "#333"},
     "encoding": {"x": {"field": "lx", "type": "quantitative"}, "y": {"field": "ly", "type": "quantitative"}, "text": {"field": "t"}}},
    {"data": {"name": "letters"}, "transform": [{"filter": "datum.p === 'b'"}],
     "mark": {"type": "text", "align": "center", "baseline": "middle", "fontSize": 17, "fontWeight": "bold", "color": "#111"},
     "encoding": {"text": {"field": "t"}}}
  ]
}
]
}
